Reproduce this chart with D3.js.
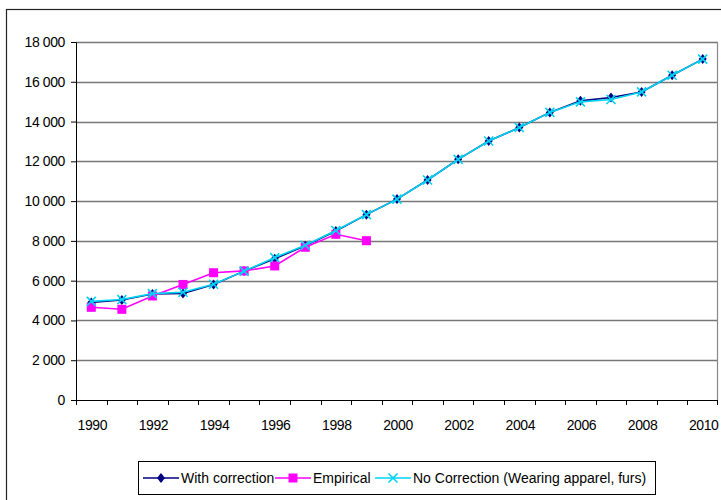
<!DOCTYPE html>
<html>
<head>
<meta charset="utf-8">
<script src="https://cdn.jsdelivr.net/npm/d3@7"></script>
<style>
  body { margin: 0; background: #fff; }
  text { font-family: "Liberation Sans", Arial, sans-serif; }
</style>
</head>
<body>
<div id="chart"></div>
<script>
// data
var years = d3.range(1990, 2011);
var withCorrection = [4900, 5030, 5330, 5360, 5810, 6480, 7100, 7760, 8500, 9320, 10100,
    11060, 12100, 13020, 13700, 14460, 15040, 15210, 15490, 16330, 17140];
var empirical = [4660, 4560, 5230, 5810, 6400, 6490, 6740, 7680, 8330, 8010];
var noCorrection = [4960, 5050, 5350, 5420, 5820, 6480, 7160, 7780, 8520, 9320, 10100,
    11060, 12100, 13020, 13700, 14460, 14990, 15110, 15490, 16330, 17140];
var yTicks = [0, 2000, 4000, 6000, 8000, 10000, 12000, 14000, 16000, 18000];
var seriesNames = ["With correction", "Empirical", "No Correction (Wearing apparel, furs)"];

var svgWidth = 721, svgHeight = 500;
var margin = {top: 42, right: 3, bottom: 100, left: 76};
var width = svgWidth - margin.left - margin.right;
var height = svgHeight - margin.top - margin.bottom;

var svg = d3.select("#chart").append("svg")
    .attr("width", svgWidth)
    .attr("height", svgHeight);

// outer chart frame
svg.append("rect")
    .attr("x", 6.5).attr("y", 9.5)
    .attr("width", 720).attr("height", 500)
    .attr("fill", "none").attr("stroke", "#222").attr("stroke-width", 1.2);

var chartGroup = svg.append("g")
    .attr("transform", `translate(${margin.left}, ${margin.top})`);

var xScale = d3.scaleBand().domain(years).range([0, width]);
var yScale = d3.scaleLinear().domain([0, 18000]).range([height, 0]);

// gridlines
chartGroup.selectAll(".grid")
    .data(yTicks.slice(1))
    .enter()
    .append("line")
    .attr("x1", 0).attr("x2", width)
    .attr("y1", d => Math.round(yScale(d)) + 0.5)
    .attr("y2", d => Math.round(yScale(d)) + 0.5)
    .attr("stroke", "#777").attr("stroke-width", 1.4);

// right border of plot
chartGroup.append("line")
    .attr("x1", width - 0.5).attr("x2", width - 0.5)
    .attr("y1", 0).attr("y2", height)
    .attr("stroke", "#888").attr("stroke-width", 1.2);

// y axis
var fmt = d => d3.format(",")(d).replace(/,/g, " ");
var yAxis = d3.axisLeft(yScale).tickValues(yTicks).tickSize(5).tickPadding(6).tickFormat(fmt);
var yG = chartGroup.append("g").call(yAxis);
yG.select(".domain").attr("stroke", "#000");
yG.selectAll("text").attr("font-size", "14px").attr("letter-spacing", "-0.4px").attr("fill", "#000");

// x axis with ticks between categories
var xG = chartGroup.append("g").attr("transform", `translate(0, ${height})`);
xG.append("line")
    .attr("x1", 0).attr("x2", width)
    .attr("y1", 0.5).attr("y2", 0.5)
    .attr("stroke", "#000");
xG.selectAll(".xtick")
    .data(years.concat([2011]))
    .enter()
    .append("line")
    .attr("x1", d => d === 2011 ? width - 0.5 : Math.round(xScale(d)) + 0.5)
    .attr("x2", d => d === 2011 ? width - 0.5 : Math.round(xScale(d)) + 0.5)
    .attr("y1", 0).attr("y2", 5)
    .attr("stroke", "#000");
xG.selectAll(".xlabel")
    .data(years.filter(d => d % 2 === 0))
    .enter()
    .append("text")
    .attr("x", d => xScale(d) + xScale.bandwidth() / 2 + 1)
    .attr("y", 30)
    .attr("text-anchor", "middle")
    .attr("font-size", "14px")
    .attr("letter-spacing", "-0.4px")
    .text(d => d);

var cx = (d, i) => xScale(years[i]) + xScale.bandwidth() / 2;
var line = d3.line().x(cx).y(d => yScale(d));

function diamond(g, color) {
    g.append("path").attr("d", "M0,-5L4,0L0,5L-4,0Z").attr("fill", color);
}
function square(g, color) {
    g.append("rect").attr("x", -4.5).attr("y", -4.5).attr("width", 9).attr("height", 9).attr("fill", color);
}
function cross(g, color) {
    g.append("path").attr("d", "M-4.5,-4.5L4.5,4.5M-4.5,4.5L4.5,-4.5").attr("stroke", color).attr("stroke-width", 1.6).attr("fill", "none");
}

var series = [
    {values: withCorrection, color: "#000080", marker: diamond},
    {values: empirical, color: "#FF00FF", marker: square},
    {values: noCorrection, color: "#00D4F2", marker: cross}
];

series.forEach(function(s) {
    chartGroup.append("path")
        .datum(s.values)
        .attr("d", line)
        .attr("fill", "none")
        .attr("stroke", s.color)
        .attr("stroke-width", 1.6);
    chartGroup.selectAll(null)
        .data(s.values)
        .enter()
        .append("g")
        .attr("transform", (d, i) => `translate(${cx(d, i)}, ${yScale(d)})`)
        .each(function() { s.marker(d3.select(this), s.color); });
});

// legend
var legend = svg.append("g");
legend.append("rect")
    .attr("x", 138.5).attr("y", 461.5)
    .attr("width", 517).attr("height", 33)
    .attr("fill", "#fff").attr("stroke", "#000");
var legendX = [143, 275, 375];
series.forEach(function(s, i) {
    var lg = legend.append("g").attr("transform", `translate(${legendX[i]}, 478)`);
    lg.append("line").attr("x1", 0).attr("x2", 36).attr("y1", 0).attr("y2", 0)
        .attr("stroke", s.color).attr("stroke-width", 1.6);
    var m = lg.append("g").attr("transform", "translate(18, 0)");
    s.marker(m, s.color);
    lg.append("text")
        .attr("x", 38).attr("y", 5)
        .attr("font-size", "14px")
        .text(seriesNames[i]);
});
</script>
</body>
</html>
